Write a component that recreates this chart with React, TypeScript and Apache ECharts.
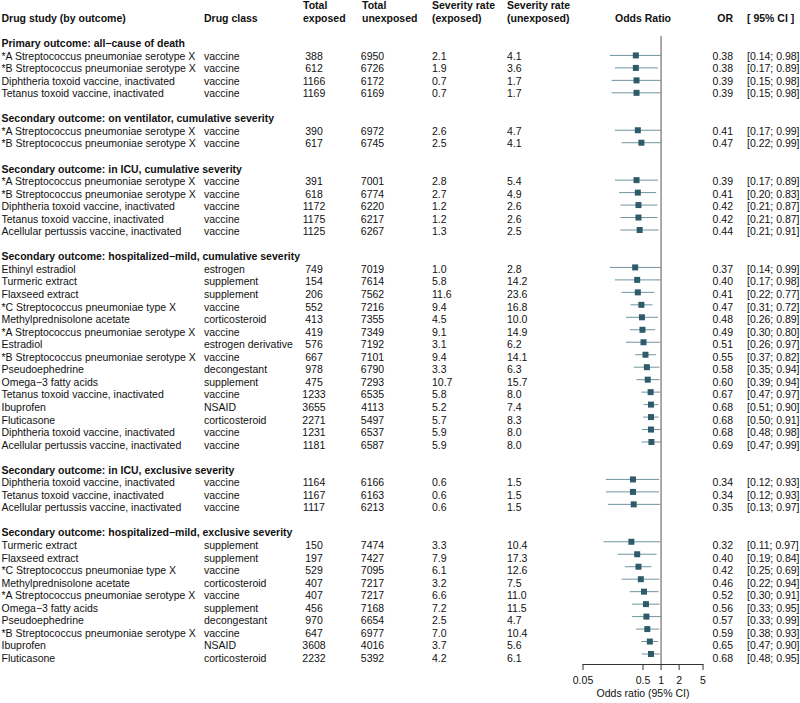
import React, { useEffect, useRef } from "react";
import * as echarts from "echarts";

// ---------------- data ----------------
const groupTitles = [
  "Primary outcome: all\u2212cause of death",
  "Secondary outcome: on ventilator, cumulative severity",
  "Secondary outcome: in ICU, cumulative severity",
  "Secondary outcome: hospitalized\u2212mild, cumulative severity",
  "Secondary outcome: in ICU, exclusive severity",
  "Secondary outcome: hospitalized\u2212mild, exclusive severity",
];
const groupSizes = [4, 2, 5, 15, 3, 10];

const SA = "*A Streptococcus pneumoniae serotype X";
const SB = "*B Streptococcus pneumoniae serotype X";
const SC = "*C Streptococcus pneumoniae type X";
const DIP = "Diphtheria toxoid vaccine, inactivated";
const TET = "Tetanus toxoid vaccine, inactivated";
const ACE = "Acellular pertussis vaccine, inactivated";

const drugs = [
  SA, SB, DIP, TET,
  SA, SB,
  SA, SB, DIP, TET, ACE,
  "Ethinyl estradiol", "Turmeric extract", "Flaxseed extract", SC, "Methylprednisolone acetate", SA, "Estradiol", SB,
  "Pseudoephedrine", "Omega\u22123 fatty acids", TET, "Ibuprofen", "Fluticasone", DIP, ACE,
  DIP, TET, ACE,
  "Turmeric extract", "Flaxseed extract", SC, "Methylprednisolone acetate", SA, "Omega\u22123 fatty acids",
  "Pseudoephedrine", SB, "Ibuprofen", "Fluticasone",
];
const drugClasses = [
  "vaccine", "vaccine", "vaccine", "vaccine",
  "vaccine", "vaccine",
  "vaccine", "vaccine", "vaccine", "vaccine", "vaccine",
  "estrogen", "supplement", "supplement", "vaccine", "corticosteroid", "vaccine", "estrogen derivative", "vaccine",
  "decongestant", "supplement", "vaccine", "NSAID", "corticosteroid", "vaccine", "vaccine",
  "vaccine", "vaccine", "vaccine",
  "supplement", "supplement", "vaccine", "corticosteroid", "vaccine", "supplement",
  "decongestant", "vaccine", "NSAID", "corticosteroid",
];
const totalExposed = [
  388, 612, 1166, 1169,
  390, 617,
  391, 618, 1172, 1175, 1125,
  749, 154, 206, 552, 413, 419, 576, 667, 978, 475, 1233, 3655, 2271, 1231, 1181,
  1164, 1167, 1117,
  150, 197, 529, 407, 407, 456, 970, 647, 3608, 2232,
];
const totalUnexposed = [
  6950, 6726, 6172, 6169,
  6972, 6745,
  7001, 6774, 6220, 6217, 6267,
  7019, 7614, 7562, 7216, 7355, 7349, 7192, 7101, 6790, 7293, 6535, 4113, 5497, 6537, 6587,
  6166, 6163, 6213,
  7474, 7427, 7095, 7217, 7217, 7168, 6654, 6977, 4016, 5392,
];
const rateExposed = [
  2.1, 1.9, 0.7, 0.7,
  2.6, 2.5,
  2.8, 2.7, 1.2, 1.2, 1.3,
  1.0, 5.8, 11.6, 9.4, 4.5, 9.1, 3.1, 9.4, 3.3, 10.7, 5.8, 5.2, 5.7, 5.9, 5.9,
  0.6, 0.6, 0.6,
  3.3, 7.9, 6.1, 3.2, 6.6, 7.2, 2.5, 7.0, 3.7, 4.2,
];
const rateUnexposed = [
  4.1, 3.6, 1.7, 1.7,
  4.7, 4.1,
  5.4, 4.9, 2.6, 2.6, 2.5,
  2.8, 14.2, 23.6, 16.8, 10.0, 14.9, 6.2, 14.1, 6.3, 15.7, 8.0, 7.4, 8.3, 8.0, 8.0,
  1.5, 1.5, 1.5,
  10.4, 17.3, 12.6, 7.5, 11.0, 11.5, 4.7, 10.4, 5.6, 6.1,
];
const oddsRatio = [
  0.38, 0.38, 0.39, 0.39,
  0.41, 0.47,
  0.39, 0.41, 0.42, 0.42, 0.44,
  0.37, 0.40, 0.41, 0.47, 0.48, 0.49, 0.51, 0.55, 0.58, 0.60, 0.67, 0.68, 0.68, 0.68, 0.69,
  0.34, 0.34, 0.35,
  0.32, 0.40, 0.42, 0.46, 0.52, 0.56, 0.57, 0.59, 0.65, 0.68,
];
const ciLower = [
  0.14, 0.17, 0.15, 0.15,
  0.17, 0.22,
  0.17, 0.20, 0.21, 0.21, 0.21,
  0.14, 0.17, 0.22, 0.31, 0.26, 0.30, 0.26, 0.37, 0.35, 0.39, 0.47, 0.51, 0.50, 0.48, 0.47,
  0.12, 0.12, 0.13,
  0.11, 0.19, 0.25, 0.22, 0.30, 0.33, 0.33, 0.38, 0.47, 0.48,
];
const ciUpper = [
  0.98, 0.89, 0.98, 0.98,
  0.99, 0.99,
  0.89, 0.83, 0.87, 0.87, 0.91,
  0.99, 0.98, 0.77, 0.72, 0.89, 0.80, 0.97, 0.82, 0.94, 0.94, 0.97, 0.90, 0.91, 0.98, 0.99,
  0.93, 0.93, 0.97,
  0.97, 0.84, 0.69, 0.94, 0.91, 0.95, 0.99, 0.93, 0.90, 0.95,
];
const axisTicks = [0.05, 0.5, 1, 2, 5];
const axisTickLabels = ["0.05", "0.5", "1", "2", "5"];
const axisTitle = "Odds ratio (95% CI)";

// ---------------- layout constants ----------------
const W = 800;
const H = 703;
const ROW0 = 43; // pixel y of first line
const ROWH = 12.55; // line height
const FOREST_LEFT = 583;
const FOREST_RIGHT = 703;
const FOREST_TOP = 36;
const AXIS_Y = 668;
const FONT = "'Liberation Sans', Arial, Helvetica, sans-serif";
const FS = 10.5;
const TEXT_COLOR = "#111";
const BOX_COLOR = "#2d5b69";
const CI_COLOR = "#6f959f";

type TextItem = { x: number; row: number; text: string; align: "left" | "center" | "right"; bold?: boolean };

function buildTable() {
  const texts: TextItem[] = [];
  const forest: number[][] = [];
  const hdr = (x: number, row: number, text: string, align: "left" | "center" | "right" = "left") =>
    texts.push({ x, row, text, align, bold: true });
  hdr(1.5, -2, "Drug study (by outcome)");
  hdr(204, -2, "Drug class");
  hdr(303, -3, "Total");
  hdr(303, -2, "exposed");
  hdr(362, -3, "Total");
  hdr(362, -2, "unexposed");
  hdr(432, -3, "Severity rate");
  hdr(432, -2, "(exposed)");
  hdr(507, -3, "Severity rate");
  hdr(507, -2, "(unexposed)");
  hdr(643, -2, "Odds Ratio", "center");
  hdr(733, -2, "OR", "right");
  hdr(747, -2, "[ 95% CI ]");

  let row = 0;
  let k = 0;
  groupSizes.forEach((n, g) => {
    texts.push({ x: 1.5, row, text: groupTitles[g], align: "left", bold: true });
    row++;
    for (let i = 0; i < n; i++, k++, row++) {
      texts.push({ x: 1.5, row, text: drugs[k], align: "left" });
      texts.push({ x: 204, row, text: drugClasses[k], align: "left" });
      texts.push({ x: 314, row, text: String(totalExposed[k]), align: "center" });
      texts.push({ x: 372.5, row, text: String(totalUnexposed[k]), align: "center" });
      texts.push({ x: 432, row, text: rateExposed[k].toFixed(1), align: "left" });
      texts.push({ x: 507, row, text: rateUnexposed[k].toFixed(1), align: "left" });
      texts.push({ x: 733, row, text: oddsRatio[k].toFixed(2), align: "right" });
      texts.push({
        x: 747,
        row,
        text: `[${ciLower[k].toFixed(2)}; ${ciUpper[k].toFixed(2)}]`,
        align: "left",
      });
      forest.push([oddsRatio[k], ciLower[k], ciUpper[k], row]);
    }
    row++; // blank line
  });
  return { texts, forest };
}

export default function App() {
  const ref = useRef<HTMLDivElement>(null);
  useEffect(() => {
    if (!ref.current) return;
    const chart = echarts.init(ref.current, undefined, { renderer: "svg" });
    const { texts, forest } = buildTable();

    const yMinA = -ROW0 / ROWH;
    const yMaxA = (H - ROW0) / ROWH;
    const yMinB = (FOREST_TOP - ROW0) / ROWH;
    const yMaxB = (AXIS_Y - ROW0) / ROWH;

    const textEl = (x: number, y: number, text: string, align: string, bold?: boolean) => ({
      type: "text",
      x,
      y,
      style: {
        text,
        fill: TEXT_COLOR,
        fontSize: FS,
        fontFamily: FONT,
        fontWeight: bold ? "bold" : "normal",
        align,
        textAlign: align,
        verticalAlign: "middle",
        textVerticalAlign: "middle",
      },
    });

    chart.setOption({
      animation: false,
      backgroundColor: "#ffffff",
      grid: [
        { left: 0, top: 0, width: W, height: H },
        { left: FOREST_LEFT, top: FOREST_TOP, width: FOREST_RIGHT - FOREST_LEFT, height: AXIS_Y - FOREST_TOP },
      ],
      xAxis: [
        { type: "value", gridIndex: 0, min: 0, max: W, show: false },
        {
          type: "log",
          gridIndex: 1,
          logBase: 10,
          min: 0.05,
          max: 5,
          position: "bottom",
          axisLine: { show: true, onZero: false, lineStyle: { color: "#333", width: 1 } },
          axisTick: { show: false },
          axisLabel: { show: false },
          splitLine: { show: false },
          name: axisTitle,
          nameLocation: "middle",
          nameGap: 23,
          nameTextStyle: { color: TEXT_COLOR, fontSize: FS, fontFamily: FONT },
        },
      ],
      yAxis: [
        { type: "value", gridIndex: 0, min: yMinA, max: yMaxA, inverse: true, show: false },
        { type: "value", gridIndex: 1, min: yMinB, max: yMaxB, inverse: true, show: false },
      ],
      series: [
        {
          type: "custom",
          xAxisIndex: 0,
          yAxisIndex: 0,
          clip: false,
          silent: true,
          data: texts.map((t) => [t.x, t.row]),
          renderItem: (params: any, api: any) => {
            const t = texts[params.dataIndex];
            const p = api.coord([t.x, t.row]);
            return textEl(p[0], p[1], t.text, t.align, t.bold);
          },
        },
        {
          type: "line",
          xAxisIndex: 1,
          yAxisIndex: 1,
          silent: true,
          symbol: "none",
          lineStyle: { color: "#555", width: 1 },
          data: [
            [1, yMinB],
            [1, yMaxB],
          ],
        },
        {
          type: "custom",
          xAxisIndex: 1,
          yAxisIndex: 1,
          clip: false,
          silent: true,
          data: forest,
          encode: { x: [0, 1, 2], y: 3 },
          renderItem: (params: any, api: any) => {
            const row = api.value(3);
            const c = api.coord([api.value(0), row]);
            const lo = api.coord([api.value(1), row]);
            const hi = api.coord([api.value(2), row]);
            const s = 6;
            return {
              type: "group",
              children: [
                {
                  type: "line",
                  shape: { x1: lo[0], y1: lo[1], x2: hi[0], y2: hi[1] },
                  style: { stroke: CI_COLOR, lineWidth: 1 },
                },
                {
                  type: "rect",
                  shape: { x: c[0] - s / 2, y: c[1] - s / 2, width: s, height: s },
                  style: { fill: BOX_COLOR },
                },
              ],
            };
          },
        },
        {
          type: "custom",
          xAxisIndex: 1,
          yAxisIndex: 1,
          clip: false,
          silent: true,
          data: axisTicks.map((v) => [v, yMaxB]),
          renderItem: (params: any, api: any) => {
            const p = api.coord([api.value(0), yMaxB]);
            return {
              type: "group",
              children: [
                {
                  type: "line",
                  shape: { x1: p[0], y1: p[1], x2: p[0], y2: p[1] + 6 },
                  style: { stroke: "#333", lineWidth: 1 },
                },
                textEl(p[0], p[1] + 16, axisTickLabels[params.dataIndex], "center"),
              ],
            };
          },
        },
      ],
    });
    return () => chart.dispose();
  }, []);

  return (
    <div
      ref={ref}
      style={{ position: "fixed", left: 0, top: 0, width: W, height: H, background: "#fff" }}
    />
  );
}
